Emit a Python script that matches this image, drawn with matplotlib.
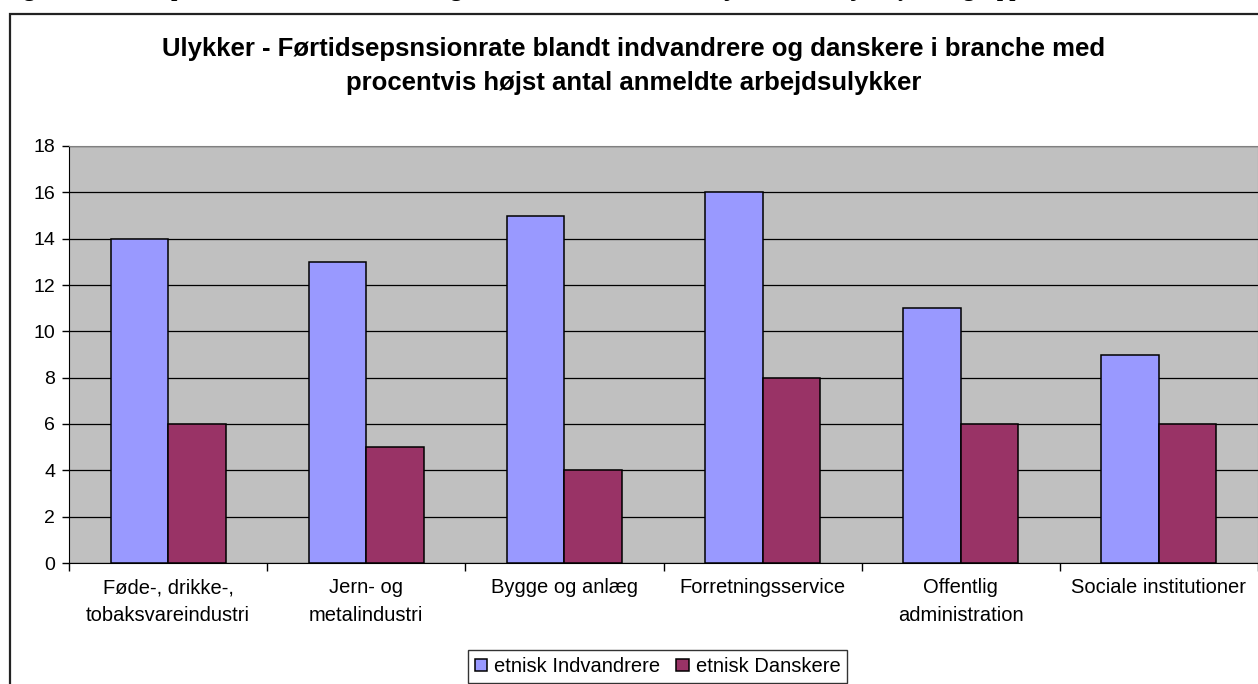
import numpy as np
import matplotlib.pyplot as plt
from matplotlib.patches import Rectangle

# Data
brancher = ["Føde-, drikke-,\ntobaksvareindustri", "Jern- og\nmetalindustri",
            "Bygge og anlæg", "Forretningsservice", "Offentlig\nadministration",
            "Sociale institutioner"]
indvandrere = [14, 13, 15, 16, 11, 9]
danskere = [6, 5, 4, 8, 6, 6]
yticks = list(range(0, 19, 2))

plt.rcParams['font.family'] = ['Liberation Sans', 'DejaVu Sans']

fig = plt.figure(figsize=(12.58, 6.84), dpi=100)
W, H = 1258, 684

# Cut-off caption from the surrounding document (only descenders visible)
fig.text(4 / W, 1 + 4 / H,
         "Figur 9.3, Førtidspension blandt indvandrere og danskere i branche med højst antal arbejdsulykker, grupper",
         family='Liberation Serif', fontweight='bold', fontsize=16, va='baseline', ha='left')

# Outer chart frame
fig.patches.append(Rectangle((10 / W, -0.2), 2, 1.2 - 14 / H, transform=fig.transFigure,
                             fill=False, edgecolor='#222222', linewidth=1.6))

ax = fig.add_axes([69 / W, (H - 563) / H, (1258 - 69) / W, (563 - 146) / H])
ax.set_facecolor('#C0C0C0')

x = np.arange(len(brancher))
bw = 0.29
ax.bar(x - bw / 2, indvandrere, bw, color='#9999FF', edgecolor='black', linewidth=1.1,
       label='etnisk Indvandrere', zorder=3)
ax.bar(x + bw / 2, danskere, bw, color='#993366', edgecolor='black', linewidth=1.1,
       label='etnisk Danskere', zorder=3)

ax.set_xlim(-0.5, len(brancher) - 0.5)
ax.set_ylim(0, 18)
ax.set_yticks(yticks)
ax.yaxis.grid(True, color='black', linewidth=0.9, zorder=1)
ax.set_axisbelow(True)
ax.tick_params(axis='y', labelsize=14, length=5, width=1, direction='out', pad=5)

# category labels centred, tick marks on boundaries
ax.set_xticks(np.arange(-0.5, len(brancher), 1.0))
ax.set_xticklabels([])
ax.tick_params(axis='x', length=6, width=1)
ax.set_xticks(x, minor=True)
ax.set_xticklabels(brancher, minor=True, fontsize=14.5, linespacing=1.6)
ax.tick_params(axis='x', which='minor', length=0, pad=11)

for side in ['top', 'right']:
    ax.spines[side].set_color('#808080')
ax.spines['left'].set_color('black')
ax.spines['bottom'].set_color('black')

fig.text(634 / W, 1 - 66 / H,
         "Ulykker - Førtidsepsnsionrate blandt indvandrere og danskere i branche med\nprocentvis højst antal anmeldte arbejdsulykker",
         ha='center', va='center', fontsize=18.5, fontweight='bold', linespacing=1.5)

leg = fig.legend(loc='upper left', bbox_to_anchor=(468 / W, 1 - 650 / H), ncol=2,
                 fontsize=14.5, frameon=True, fancybox=False, edgecolor='black',
                 handlelength=0.6, handleheight=0.6, handletextpad=0.35,
                 columnspacing=0.8, borderpad=0.35, borderaxespad=0)
leg.get_frame().set_linewidth(1)

fig.savefig('out.png', dpi=100)
